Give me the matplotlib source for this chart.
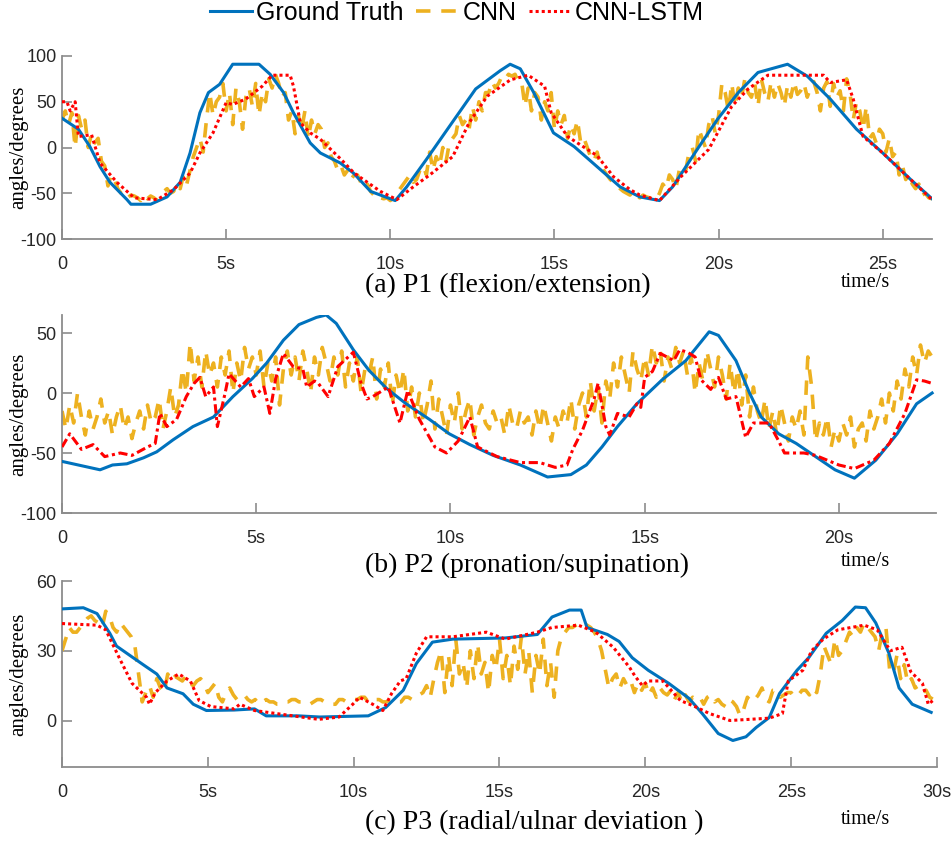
#!/usr/bin/env python3

import numpy as np
import matplotlib
matplotlib.use('Agg')
import matplotlib.pyplot as plt
from matplotlib.lines import Line2D

# ---------------- P1 (flexion/extension) ----------------
p1_gt_t = [0, 0.5, 0.85, 1.16, 1.46, 1.98, 2.1, 2.7, 3.2, 3.6, 3.9, 4.2, 4.46, 4.8, 5.2, 6.0, 6.34,
           6.75, 7.05, 7.56, 7.87, 8.48, 8.88, 9.4, 10.15, 10.5, 11.1, 11.8, 12.6, 13.35, 13.65, 13.96,
           14.37, 14.97, 15.6, 16.3, 17.0, 17.6, 18.2, 18.6, 19.35, 19.97, 20.6, 21.2, 22.1, 22.7,
           23.4, 24.2, 25.0, 25.85, 26.5]
p1_gt = [32, 20, 1, -21, -38, -57, -62, -62, -54, -38, -6, 38, 60, 69, 91, 91, 80,
         60, 38, 5, -6, -17, -28, -48, -58, -43, -13, 23, 64, 84, 91, 86,
         60, 16, 1, -21, -43, -54, -58, -43, -2, 31, 60, 82, 91, 78,
         53, 20, -6, -35, -56]

p1_lstm_t = [0, 0.15, 0.25, 0.4, 0.5, 0.9, 1.16, 1.67, 2.2, 2.9, 3.4, 3.9, 4.2, 4.6, 5.0, 5.2, 5.6,
             6.1, 6.4, 6.95, 7.05, 7.26, 7.56, 7.87, 8.5, 8.9, 9.7, 10.2, 10.7, 11.2, 11.9, 12.4,
             12.95, 13.66, 14.2, 14.7, 14.9, 15.4, 16.0, 16.3, 16.8, 17.3, 17.6, 18.2, 18.85, 19.7,
             20.4, 20.9, 21.5, 23.2, 23.4, 23.9, 24.1, 24.4, 25.0, 25.85, 26.5]
p1_lstm = [50, 50, 40, 50, 12, 14, -17, -38, -55, -57, -46, -28, -6, 16, 49, 47, 53,
           67, 79, 79, 67, 27, 16, 9, -13, -28, -48, -57, -43, -30, -10, 27,
           56, 74, 79, 67, 38, 12, -2, -9, -32, -46, -52, -58, -32, -2,
           45, 64, 79, 79, 71, 74, 53, 12, -6, -35, -57]

# CNN 输出，0.1s 一个点
p1_cnn_dt = 0.1
p1_cnn = [30, 40, 25, 38, 0, 35, 20, 30, 0, 15,
          5, 10, -15, -20, -42, -30, -35, -45, -50, -48,
          -55, -52, -53, -55, -58, -52, -56, -53, -55, -58,
          -52, -48, -45, -50, -48, -40, -45, -30, -40, -25,
          -10, 0, 10, -5, 30, 60, 35, 50, 55, 70,
          40, 60, 25, 65, 50, 20, 55, 65, 45, 70,
          35, 60, 50, 75, 65, 80, 70, 55, 60, 30,
          40, 15, 35, 20, 40, 10, 30, 15, 25, 20,
          0, 5, -10, -15, -25, -20, -30, -25, -35, -30,
          -30, -38, -45, -40, -48, -52, -50, -55, -56, -55,
          -58, -55, -50, -45, -40, -35, -30, -38, -35, -25,
          -20, -30, -5, -25, -10, -20, 0, -15, 5, 10,
          15, 35, 25, 30, 20, 45, 30, 50, 40, 60,
          60, 72, 65, 70, 78, 75, 80, 78, 80, 72,
          72, 45, 65, 40, 60, 55, 30, 50, 40, 60,
          20, 40, 25, 35, 10, 25, 15, 30, 5, 10,
          0, -10, -15, -5, -20, -25, -30, -35, -38, -40,
          -45, -48, -50, -52, -48, -53, -55, -52, -54, -55,
          -55, -57, -50, -40, -45, -30, -35, -45, -25, -30,
          -25, -5, 0, -15, 20, 10, 0, 25, 35, 15,
          35, 70, 60, 40, 70, 45, 65, 55, 75, 60,
          55, 70, 45, 75, 60, 50, 72, 55, 70, 60,
          45, 68, 55, 72, 58, 62, 70, 55, 65, 72,
          60, 40, 65, 72, 45, 70, 55, 62, 40, 75,
          60, 30, 50, 40, 20, 45, 10, 15, 5, 20,
          15, -5, 10, -10, -5, -30, -20, -35, -30, -40,
          -45, -40, -52, -50, -55, -56]

# ---------------- P2 (pronation/supination) ----------------
p2_gt_t = [0, 0.98, 1.3, 1.67, 2.1, 2.44, 2.86, 3.37, 3.9, 4.4, 4.9, 5.27, 5.7, 6.1, 6.55, 6.8,
           7.06, 7.5, 7.9, 8.35, 8.86, 9.46, 9.97, 10.5, 11.1, 11.8, 12.5, 13.1, 13.5, 13.9, 14.3,
           14.8, 15.45, 16.06, 16.66, 16.9, 17.35, 17.7, 18.0, 18.45, 18.9, 19.4, 19.9, 20.4,
           20.95, 21.5, 22.0, 22.4]
p2_gt = [-57, -64, -60, -59, -54, -49, -39, -28, -20, -3, 12, 25, 44, 57, 63, 65,
         58, 36, 19, 4, -9, -22, -34, -43, -52, -60, -70, -68, -60, -45, -28,
         -9, 11, 27, 51, 48, 27, 0, -20, -34, -42, -53, -64, -71,
         -56, -34, -9, 0]

p2_lstm_t = [0, 0.2, 0.5, 0.8, 1.1, 1.5, 1.8, 2.2, 2.4, 2.52, 2.7, 2.95, 3.2, 3.4, 3.55, 3.7, 3.9,
             4.0, 4.2, 4.3, 4.6, 4.8, 4.95, 5.2, 5.35, 5.5, 5.7, 5.95, 6.2, 6.3, 6.5, 6.6, 6.85,
             7.1, 7.5, 7.7, 7.85, 8.0, 8.4, 8.7, 8.9, 9.2, 9.6, 9.9, 10.2, 10.5, 10.7, 11.2,
             11.8, 12.3, 12.7, 13.0, 13.15, 13.4, 13.7, 13.8, 14.0, 14.1, 14.3, 14.6, 14.8, 14.9,
             15.0, 15.2, 15.4, 15.75, 15.9, 16.1, 16.3, 16.45, 16.7, 16.9, 17.1, 17.35, 17.6,
             17.8, 18.2, 18.45, 18.6, 19.1, 19.4, 20.0, 20.4, 20.9, 21.3, 21.7, 22.0, 22.2, 22.4]
p2_lstm = [-45, -34, -47, -43, -53, -50, -52, -45, -42, -17, -28, -22, -3, 8, 13, -3, 5,
           -28, 0, 16, 5, 12, -3, 5, -17, 12, 33, 22, 20, 5, 10, 8, -3,
           22, 34, 8, -5, -3, 5, -25, 2, -22, -45, -50, -40, -20, -45, -53,
           -58, -58, -62, -60, -47, -31, -5, 8, -28, -35, -17, -20, -9, -12,
           13, 18, 33, 27, 36, 34, 30, 11, 3, 13, -5, -3, -37,
           -25, -25, -40, -50, -50, -52, -60, -63, -56, -42, -17, 11, 10, 8]

p2_cnn_dt = 0.1
p2_cnn = [-15, -30, -10, -25, 0, -20, -35, -15, -30, -20,
          -5, -25, -15, -35, -20, -10, -30, -20, -38, -25,
          -15, -30, -10, -25, -20, -5, -30, -15, 5, -20,
          -10, 20, 0, 42, 10, 30, 5, 35, 15, 25,
          5, 30, 15, 35, 0, 25, 10, 38, 20, 30,
          15, 35, 5, 25, 10, 30, -10, 20, 35, 15,
          30, 10, 35, 20, 0, 30, 15, 38, 25, 10,
          30, 15, 35, 5, 25, 10, 30, 0, 20, 15,
          30, -5, 20, 5, 25, -10, 15, 0, 20, -15,
          5, -20, 0, -25, -10, 10, -30, -5, -20, -35,
          -10, -25, 0, -30, -15, -5, -35, -20, -10, -25,
          -30, -15, -25, -20, -35, -10, -25, -30, -15, -25,
          -20, -35, -15, -30, -10, -25, -40, -20, -30, -15,
          -25, -5, -30, -10, 0, -20, 10, -15, 5, -25,
          10, -5, 25, 5, 30, 15, 0, 35, 20, 10,
          30, 15, 40, 25, 35, 10, 30, 20, 38, 25,
          35, 15, 30, 0, 25, 10, 35, 20, 5, 30,
          15, -5, 25, 0, 20, -10, 15, -20, 5, -15,
          -25, -5, -30, -15, -35, -10, -25, -40, -20, -30,
          -15, -35, 30, 5, -40, -25, -35, -20, -45, -30,
          -40, -25, -35, -20, -45, -30, -25, -40, -15, -30,
          -20, -5, -25, 0, -15, 10, -5, 20, 5, 30,
          15, 40, 25, 35, 30]

# ---------------- P3 (radial/ulnar deviation) ----------------
p3_gt_t = [0, 0.73, 1.2, 1.64, 1.87, 2.44, 2.9, 3.25, 3.6, 4.15, 4.5, 4.95, 5.9, 6.6, 7.0, 8.1,
           8.84, 10.5, 11.1, 11.7, 12.15, 12.7, 13.4, 15.2, 16.3, 16.8, 17.4, 17.8, 18.0, 18.7,
           19.1, 19.55, 20.1, 20.8, 21.5, 21.95, 22.5, 23.0, 23.45, 23.8, 24.25, 24.6, 25.2,
           25.6, 26.2, 26.75, 27.2, 27.55, 27.9, 28.35, 28.7, 29.15, 29.8]
p3_gt = [48, 48.5, 46, 37.5, 32, 27, 23, 20, 14, 11.5, 7, 4.3, 4.5, 5, 2, 2,
         1.5, 2, 5.6, 13, 24.5, 33.7, 35, 35.5, 37, 44.5, 47.5, 47.5, 40, 37,
         34, 27, 21.6, 16, 9.5, 3, -5.6, -8.6, -7, -3, 1.3, 11.6, 21.6,
         27, 37.5, 43, 48.8, 48.5, 42, 29, 14, 7, 3.5]

p3_lstm_t = [0, 1.2, 1.5, 2.0, 2.4, 2.9, 3.0, 3.2, 3.6, 4.0, 4.4, 4.7, 5.1, 5.9, 6.1, 6.6, 7.4,
             8.2, 8.8, 9.5, 9.97, 10.2, 10.65, 11.0, 11.3, 11.6, 11.8, 12.15, 12.5, 13.4, 14.55,
             15.2, 16.3, 16.8, 17.7, 18.3, 18.9, 19.45, 19.65, 19.9, 20.1, 20.6, 21.2, 21.7,
             22.2, 22.9, 24.25, 24.7, 24.9, 25.4, 25.7, 26.1, 26.6, 27.5, 27.95, 28.4, 28.8,
             29.1, 29.5, 29.7, 29.9]
p3_lstm = [41.7, 41, 39, 26, 16, 10, 7, 12, 17, 20, 17, 8.6, 6, 5, 7, 4.3, 2.9,
           1.5, 0.5, 1.5, 7, 10, 7, 4.3, 11.6, 17, 18, 29, 36, 36, 38,
           35, 38, 40, 41, 38, 31.5, 23, 19, 15, 17, 17, 8.6, 6,
           3, 0, 1, 3, 17, 21.6, 30, 35, 39, 41, 39, 30, 31.5,
           21, 16, 7, 9]

p3_cnn_dt = 0.125
p3_cnn = [30, 35, 40, 38, 38, 40, 42, 44,
          45, 43, 42, 40, 47, 45, 40, 38,
          42, 40, 38, 36, 32, 20, 8, 12,
          15, 10, 18, 14, 12, 20, 17, 19,
          18, 17, 19, 16, 15, 17, 18, 16,
          12, 14, 16, 10, 8, 12, 14, 11,
          9, 10, 11, 9, 8, 9, 7, 8,
          9, 8, 8, 7, 7, 8, 8, 9,
          9, 8, 8, 7, 7, 8, 9, 9,
          8, 8, 7, 7, 9, 9, 8, 8,
          9, 9, 10, 10, 8, 8, 9, 9,
          8, 8, 9, 9, 8, 8, 10, 10,
          9, 10, 11, 12, 15, 10, 18, 25,
          30, 12, 28, 15, 35, 20, 25, 14,
          30, 18, 33, 20, 25, 12, 28, 22,
          35, 18, 28, 15, 32, 22, 36, 20,
          30, 12, 28, 20, 35, 15, 25, 10,
          30, 36, 38, 40, 40, 41, 42, 42,
          41, 40, 38, 35, 30, 22, 14, 18,
          20, 14, 18, 15, 17, 12, 16, 13,
          16, 11, 14, 10, 14, 12, 11, 13,
          9, 12, 8, 11, 8, 10, 9, 10,
          7, 10, 11, 8, 9, 7, 6, 9,
          8, 6, 2, 5, 10, 8, 9, 11,
          14, 9, 8, 13, 13, 10, 11, 12,
          12, 10, 11, 13, 13, 11, 14, 12,
          20, 32, 28, 24, 35, 28, 30, 34,
          38, 36, 40, 38, 42, 40, 38, 36,
          30, 38, 40, 22, 20, 28, 18, 24,
          16, 18, 14, 15, 12, 13, 10, 9]

# 颜色 / 线型
C_GT = '#0072BD'
C_CNN = '#EDB120'
C_LSTM = '#FF0000'
AXIS_GRAY = '#8c8c8c'
SANS = ['Liberation Sans', 'DejaVu Sans']
SERIF = ['Liberation Serif', 'DejaVu Serif']

plt.rcParams['font.family'] = SANS


def draw_panel(fig, rect, gt_t, gt, cnn, cnn_dt, lstm_t, lstm, xlim, ylim, xticks, yticks,
               caption, cap_y, lstm_style):
    """画一个子图：真实值、CNN、CNN-LSTM 三条曲线"""
    ax = fig.add_axes(rect)
    cnn_t = np.arange(len(cnn)) * cnn_dt
    ax.plot(gt_t, gt, color=C_GT, lw=2.2, zorder=3)
    ax.plot(cnn_t, cnn, color=C_CNN, lw=2.6, linestyle=(0, (4, 3)), zorder=2)
    ax.plot(lstm_t, lstm, color=C_LSTM, lw=2.2, linestyle=lstm_style, zorder=4)

    ax.set_xlim(*xlim)
    ax.set_ylim(*ylim)
    ax.set_xticks(xticks)
    ax.set_xticklabels(['0' if x == 0 else f'{x}s' for x in xticks])
    ax.set_yticks(yticks)
    ax.set_yticklabels([str(y) for y in yticks])

    for side in ('top', 'right'):
        ax.spines[side].set_visible(False)
    for side in ('left', 'bottom'):
        ax.spines[side].set_color(AXIS_GRAY)
        ax.spines[side].set_linewidth(1.3)
    ax.tick_params(direction='in', length=7, width=1.2, color=AXIS_GRAY,
                   labelcolor='#262626', labelsize=13)
    ax.tick_params(axis='x', pad=12)
    ax.tick_params(axis='y', pad=4)

    ax.set_ylabel('angles/degrees', family=SERIF, fontsize=15)
    ax.yaxis.set_label_coords(-0.039, 0.5)

    fig.text(365 / 953, cap_y, caption, family=SERIF, fontsize=20, ha='left', va='center')
    fig.text(865 / 953, cap_y + 0.004, 'time/s', family=SERIF, fontsize=14.5, ha='center', va='center')
    return ax


fig = plt.figure(figsize=(9.53, 8.43), dpi=100)

draw_panel(fig, [62 / 953, 1 - 239 / 843, (932 - 62) / 953, (239 - 56) / 843],
           p1_gt_t, p1_gt, p1_cnn, p1_cnn_dt, p1_lstm_t, p1_lstm,
           (0, 26.5), (-100, 100), [0, 5, 10, 15, 20, 25], [-100, -50, 0, 50, 100],
           '(a) P1 (flexion/extension)', 1 - 286 / 843, (0, (1, 1)))

draw_panel(fig, [62 / 953, 1 - 513 / 843, (936 - 62) / 953, (513 - 315) / 843],
           p2_gt_t, p2_gt, p2_cnn, p2_cnn_dt, p2_lstm_t, p2_lstm,
           (0, 22.5), (-100, 65), [0, 5, 10, 15, 20], [-100, -50, 0, 50],
           '(b) P2 (pronation/supination)', 1 - 565 / 843, (0, (3, 1.2, 1, 1.2)))

draw_panel(fig, [62 / 953, 1 - 767 / 843, (937 - 62) / 953, (767 - 581) / 843],
           p3_gt_t, p3_gt, p3_cnn, p3_cnn_dt, p3_lstm_t, p3_lstm,
           (0, 30), (-20, 60), [0, 5, 10, 15, 20, 25, 30], [0, 30, 60],
           '(c) P3 (radial/ulnar deviation )', 1 - 823 / 843, (0, (1, 1)))

handles = [Line2D([], [], color=C_GT, lw=2.2),
           Line2D([], [], color=C_CNN, lw=2.6, linestyle=(0, (4, 3))),
           Line2D([], [], color=C_LSTM, lw=2.2, linestyle=(0, (1, 1)))]
fig.legend(handles, ['Ground Truth', 'CNN', 'CNN-LSTM'], loc='center',
           bbox_to_anchor=(457 / 953, 1 - 13 / 843), ncol=3, frameon=False,
           fontsize=18, handlelength=1.7, handletextpad=0.15, columnspacing=0.5)

fig.savefig('out.png', dpi=100, facecolor='white')
